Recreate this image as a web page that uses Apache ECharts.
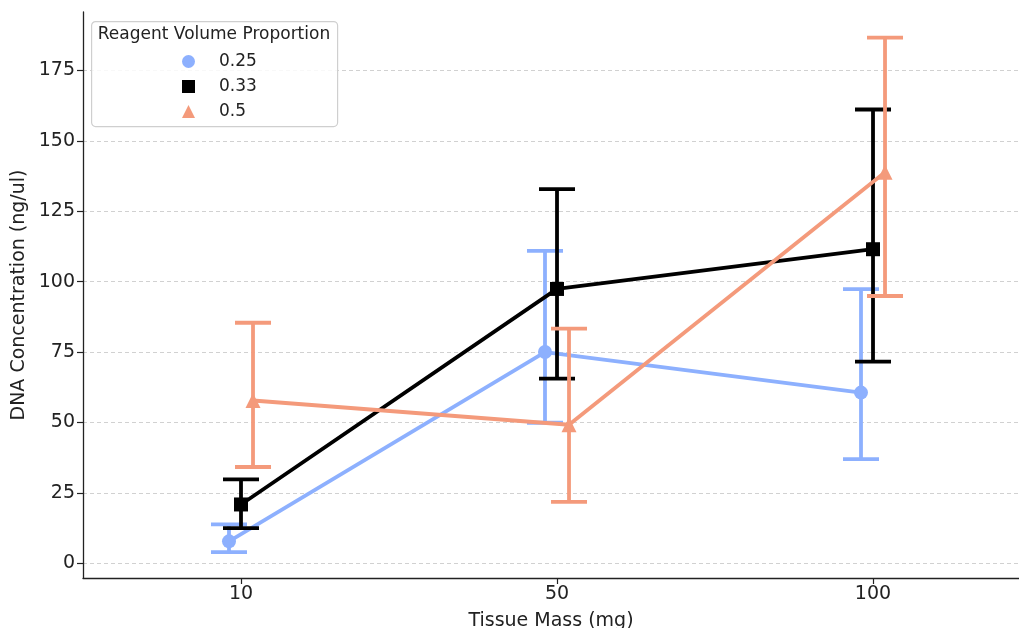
<!DOCTYPE html>
<html>
<head>
<meta charset="utf-8">
<script src="https://cdn.jsdelivr.net/npm/echarts@6/dist/echarts.min.js"></script>
<style>
  html, body { margin: 0; padding: 0; background: #fff; }
  #main { width: 1019px; height: 628px; }
</style>
</head>
<body>
<div id="main"></div>
<script>
// categories on x
var masses = ['10', '50', '100'];
var yTicks = [0, 25, 50, 75, 100, 125, 150, 175];

// reagent volume proportion 0.25
var mean025 = [7.8, 75.0, 60.6];
var low025  = [4.0, 49.9, 37.0];
var high025 = [13.8, 110.9, 97.3];
// 0.33
var mean033 = [20.9, 97.4, 111.5];
var low033  = [12.5, 65.6, 71.6];
var high033 = [29.8, 132.8, 161.1];
// 0.5
var mean05 = [57.8, 49.2, 138.8];
var low05  = [34.2, 21.8, 94.9];
var high05 = [85.4, 83.3, 186.6];

var groups = [
    { name: '0.25', color: '#8db0fe', symbol: 'circle',   size: 14, mean: mean025, low: low025, high: high025 },
    { name: '0.33', color: '#000000', symbol: 'rect',     size: 14, mean: mean033, low: low033, high: high033 },
    { name: '0.5',  color: '#f49a7b', symbol: 'triangle', size: 15, mean: mean05,  low: low05,  high: high05 }
];
var dodge = 0.038;      // seaborn dodge offset per hue (in category units)
var txt = '#222';

function errRender(color) {
    return function (params, api) {
        var x = api.value(0);
        var lo = api.coord([x, api.value(1)]);
        var hi = api.coord([x, api.value(2)]);
        var cap = 18;
        var st = { stroke: color, lineWidth: 3.8 };
        return {
            type: 'group',
            children: [
                { type: 'line', shape: { x1: lo[0], y1: lo[1], x2: hi[0], y2: hi[1] }, style: st },
                { type: 'line', shape: { x1: hi[0] - cap, y1: hi[1], x2: hi[0] + cap, y2: hi[1] }, style: st },
                { type: 'line', shape: { x1: lo[0] - cap, y1: lo[1], x2: lo[0] + cap, y2: lo[1] }, style: st }
            ]
        };
    };
}

var series = [];
groups.forEach(function (g, k) {
    var off = (k - 1) * dodge;
    var errData = [], lineData = [];
    for (var i = 0; i < masses.length; i++) {
        errData.push([i + off, g.low[i], g.high[i]]);
        lineData.push([i + off, g.mean[i]]);
    }
    series.push({
        name: g.name + ' ci',
        type: 'custom',
        renderItem: errRender(g.color),
        data: errData,
        z: 2 + k * 2,
        silent: true
    });
    series.push({
        name: g.name,
        type: 'line',
        data: lineData,
        symbol: g.symbol,
        symbolSize: g.size,
        color: g.color,
        itemStyle: { color: g.color },
        lineStyle: { color: g.color, width: 3.8 },
        z: 3 + k * 2,
        animation: false
    });
});

var myChart = echarts.init(document.getElementById('main'));
var option = {
    animation: false,
    backgroundColor: '#fff',
    grid: { left: 83, right: 0, top: 12, bottom: 50, containLabel: false, outerBoundsMode: 'none' },
    xAxis: {
        type: 'value',
        min: -0.5,
        max: 2.462,
        name: 'Tissue Mass (mg)',
        nameLocation: 'middle',
        nameGap: 34,
        nameMoveOverlap: false,
        nameTextStyle: { color: txt, fontSize: 19, fontFamily: 'DejaVu Sans' },
        axisLine: { show: true, onZero: false, lineStyle: { color: txt, width: 1.3 } },
        axisTick: { show: true, length: 6, customValues: [0, 1, 2], lineStyle: { color: txt, width: 1.2 } },
        axisLabel: {
            customValues: [0, 1, 2],
            margin: 7,
            color: txt, fontSize: 19, fontFamily: 'DejaVu Sans',
            formatter: function (v) { return masses[Math.round(v)]; }
        },
        splitLine: { show: false }
    },
    yAxis: {
        type: 'value',
        min: -5.2,
        max: 195.7,
        name: 'DNA Concentration (ng/ul)',
        nameLocation: 'middle',
        nameRotate: 90,
        nameGap: 54,
        nameMoveOverlap: false,
        nameTextStyle: { color: txt, fontSize: 19, fontFamily: 'DejaVu Sans' },
        axisLine: { show: true, onZero: false, lineStyle: { color: txt, width: 1.3 } },
        axisTick: { show: true, length: 6, customValues: yTicks, lineStyle: { color: txt, width: 1.2 } },
        axisLabel: { customValues: yTicks, margin: 8, color: txt, fontSize: 19, fontFamily: 'DejaVu Sans' },
        splitLine: { show: true, lineStyle: { color: '#cccccc', type: [4, 3], width: 0.9 } }
    },
    legend: {
        orient: 'vertical',
        left: 182,
        top: 53,
        padding: 0,
        itemWidth: 13,
        itemHeight: 13,
        itemGap: 8,
        z: 60,
        selectedMode: false,
        textStyle: { color: txt, fontSize: 17, fontFamily: 'DejaVu Sans', lineHeight: 13, padding: [0, 0, 0, 19] },
        data: groups.map(function (g) {
            return { name: g.name, icon: g.symbol, itemStyle: { color: g.color } };
        })
    },
    graphic: [
        {
            type: 'rect', left: 91, top: 21, z: 1,
            shape: { width: 246, height: 105, r: 4 },
            style: { fill: 'rgba(255,255,255,0.85)', stroke: '#cfcfcf', lineWidth: 1.2 }
        },
        {
            type: 'text', x: 214, y: 35, z: 2,
            style: {
                text: 'Reagent Volume Proportion', fill: txt,
                fontSize: 17, fontFamily: 'DejaVu Sans', align: 'center', verticalAlign: 'middle'
            }
        }
    ],
    series: series
};
myChart.setOption(option);
</script>
</body>
</html>
